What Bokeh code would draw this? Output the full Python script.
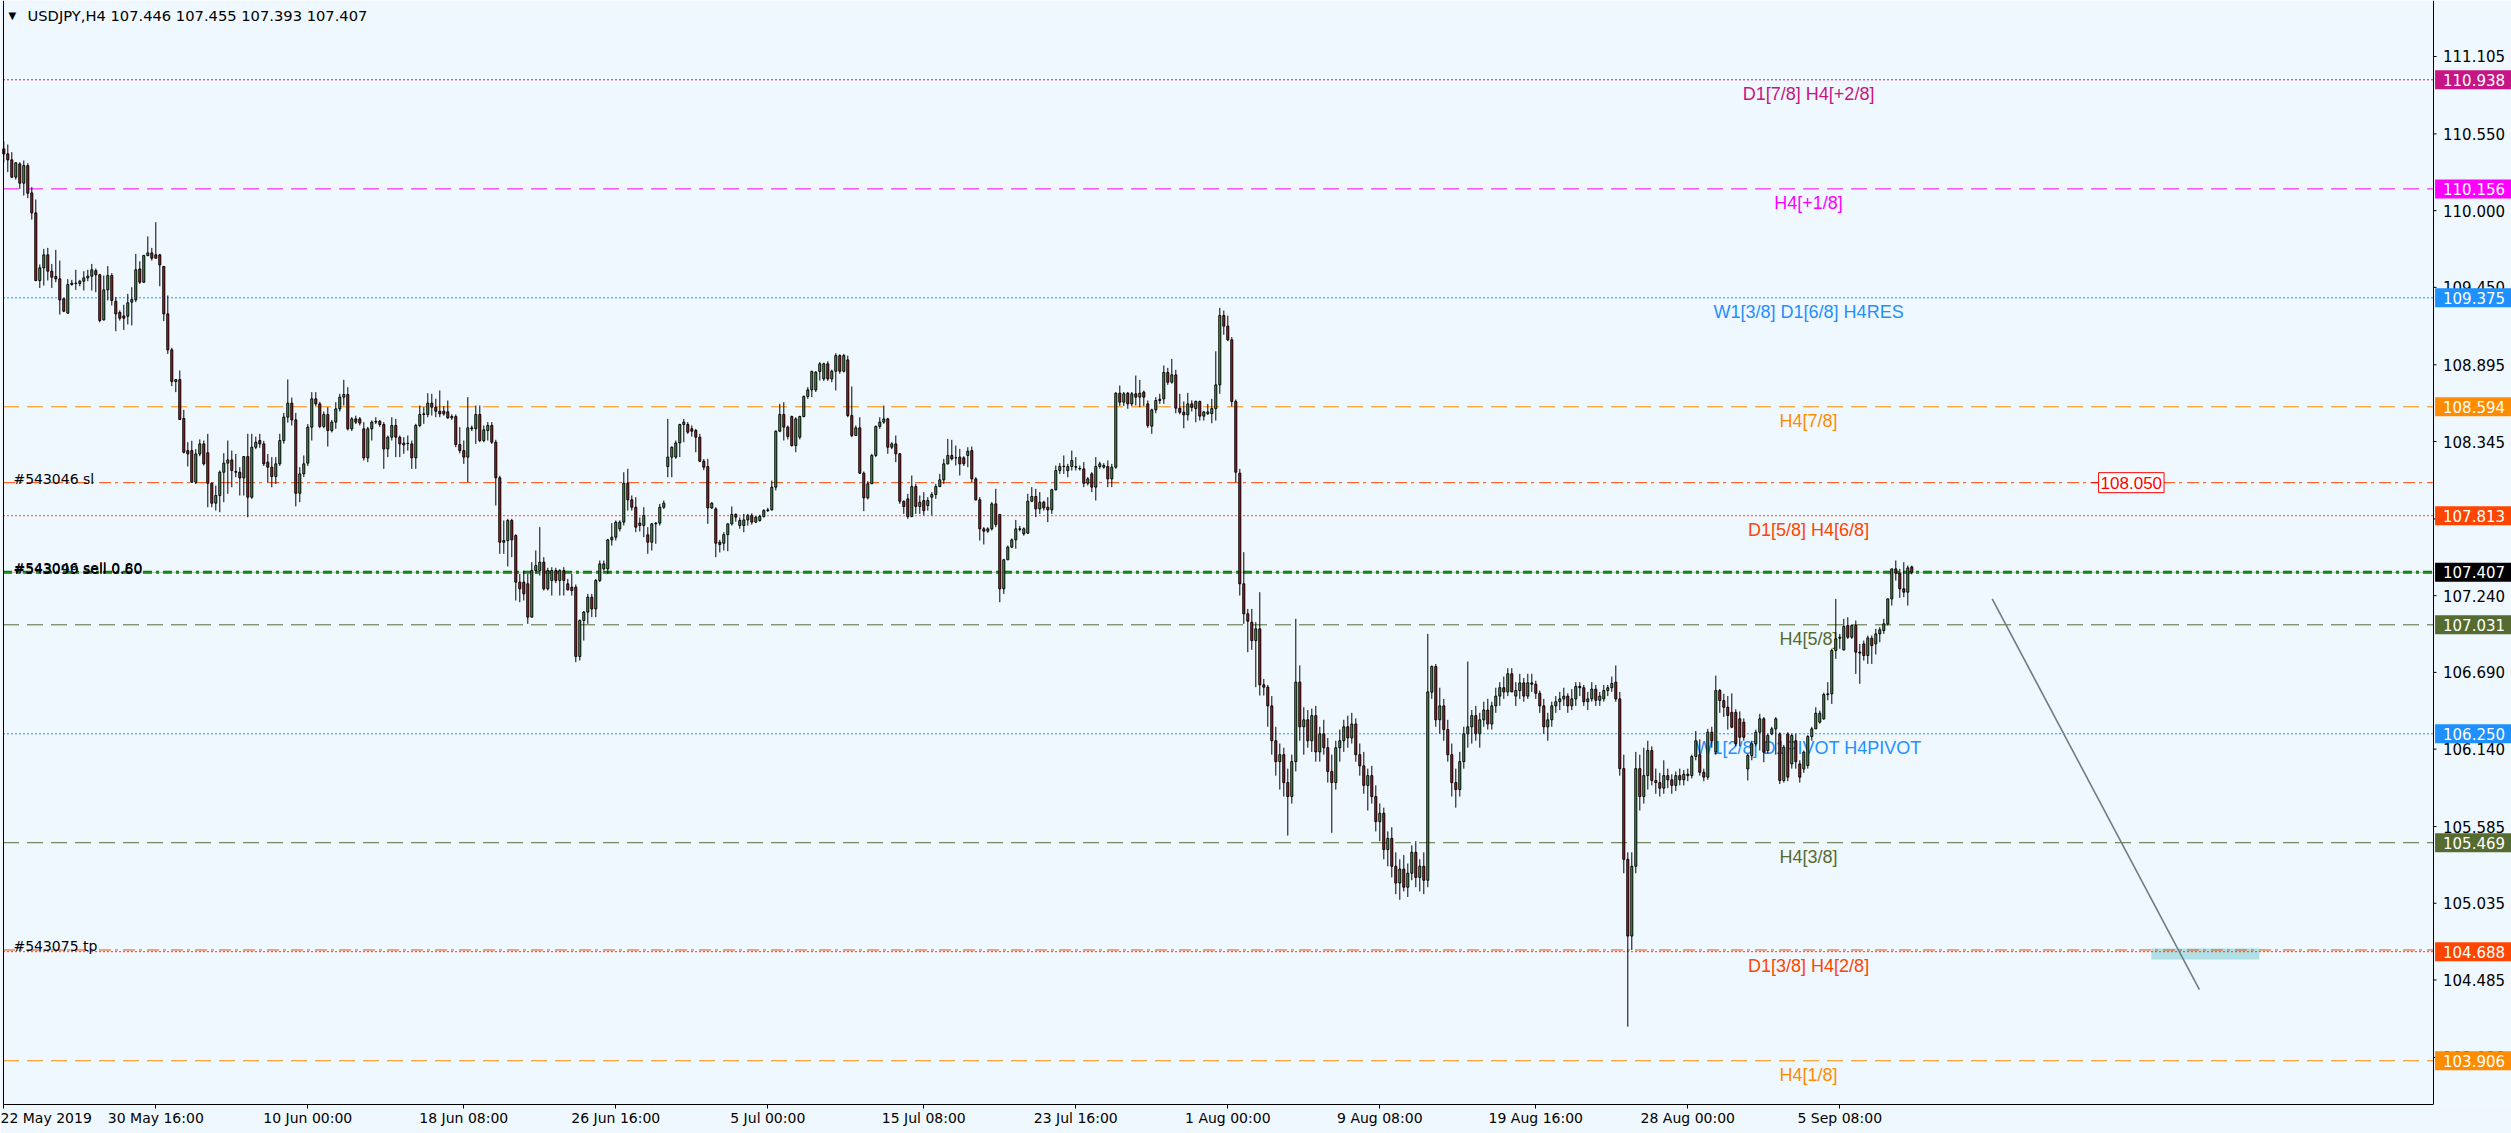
from bokeh.plotting import figure
from bokeh.models import Range1d, LinearAxis, FixedTicker, Label
from bokeh.embed import file_html
from bokeh.resources import INLINE
from bokeh.core.properties import value

# ---------------- data (USDJPY H4 bars) ----------------
opens = [
    110.443, 110.407, 110.364, 110.240, 110.335, 110.197, 110.323, 110.127, 109.984, 109.499,
    109.590, 109.683, 109.566, 109.528, 109.511, 109.368, 109.265, 109.470, 109.480, 109.478,
    109.494, 109.518, 109.530, 109.570, 109.540, 109.217, 109.432, 109.535, 109.350, 109.270,
    109.245, 109.243, 109.344, 109.361, 109.582, 109.487, 109.678, 109.697, 109.683, 109.683,
    109.600, 109.260, 109.002, 108.775, 108.789, 108.510, 108.280, 108.280, 108.053, 108.256,
    108.328, 108.264, 108.046, 107.903, 107.958, 108.125, 108.190, 108.213, 108.130, 108.125,
    108.084, 108.237, 107.946, 108.304, 108.352, 108.328, 108.197, 108.161, 108.094, 108.185,
    108.352, 108.520, 108.620, 108.500, 107.974, 108.113, 108.19, 108.448, 108.651, 108.615,
    108.453, 108.539, 108.424, 108.484, 108.579, 108.663, 108.682, 108.436, 108.507, 108.507,
    108.436, 108.228, 108.436, 108.484, 108.490, 108.467, 108.292, 108.376, 108.460, 108.376,
    108.333, 108.33, 108.328, 108.228, 108.460, 108.539, 108.539, 108.620, 108.591, 108.562,
    108.562, 108.558, 108.515, 108.524, 108.324, 108.280, 108.233, 108.436, 108.436, 108.539,
    108.352, 108.424, 108.460, 108.340, 108.085, 107.623, 107.635, 107.779, 107.671, 107.337,
    107.337, 107.325, 107.086, 107.420, 107.420, 107.480, 107.289, 107.349, 107.420, 107.349,
    107.420, 107.325, 107.301, 107.301, 106.804, 107.062, 107.122, 107.229, 107.145, 107.349,
    107.432, 107.432, 107.640, 107.659, 107.719, 107.767, 108.046, 107.927, 107.874, 107.760,
    107.743, 107.676, 107.623, 107.755, 107.760, 107.874, 108.166, 108.233, 108.233, 108.335,
    108.467, 108.467, 108.436, 108.424, 108.376, 108.204, 108.166, 107.869, 107.862, 107.623,
    107.616, 107.678, 107.755, 107.822, 107.743, 107.743, 107.783, 107.815, 107.767, 107.779,
    107.807, 107.850, 107.855, 108.018, 108.419, 108.539, 108.448, 108.524, 108.316, 108.376,
    108.524, 108.668, 108.715, 108.715, 108.847, 108.794, 108.902, 108.794, 108.849, 108.961,
    108.849, 108.930, 108.531, 108.388, 108.443, 108.118, 107.941, 108.042, 108.245, 108.453,
    108.484, 108.507, 108.304, 108.328, 108.257, 107.917, 107.934, 107.807, 108.022, 107.879,
    107.922, 107.886, 107.946, 107.965, 108.022, 108.070, 108.185, 108.245, 108.228, 108.233,
    108.228, 108.245, 108.280, 108.077, 107.927, 107.719, 107.702, 107.719, 107.898, 107.822,
    107.289, 107.497, 107.588, 107.640, 107.719, 107.683, 107.688, 107.917, 107.951, 107.862,
    107.910, 107.874, 107.855, 107.999, 108.137, 108.166, 108.137, 108.166, 108.161, 108.149,
    108.149, 108.046, 108.113, 108.018, 108.166, 108.161, 108.166, 108.077, 108.161, 108.691,
    108.627, 108.691, 108.615, 108.687, 108.663, 108.699, 108.615, 108.455, 108.572, 108.639,
    108.651, 108.840, 108.770, 108.823, 108.584, 108.555, 108.536, 108.615, 108.581, 108.632,
    108.527, 108.545, 108.545, 108.581, 108.751, 109.248, 109.172, 109.074, 108.632, 108.118,
    107.325, 107.110, 107.050, 106.918, 107.002, 106.601, 106.584, 106.45, 106.20, 106.05,
    106.10, 105.90, 105.80, 106.05, 106.62, 106.30, 106.35, 106.20, 106.38, 106.12,
    106.25, 106.15, 105.98, 105.90, 106.15, 106.20, 106.30, 106.22, 106.32, 106.10,
    106.02, 105.88, 105.95, 105.80, 105.62, 105.68, 105.42, 105.50, 105.30, 105.18,
    105.28, 105.15, 105.25, 105.40, 105.22, 105.30, 105.20, 106.548, 106.732, 106.35,
    106.45, 106.28, 106.10, 105.90, 105.85, 106.05, 106.25, 106.30, 106.38, 106.25,
    106.35, 106.42, 106.32, 106.45, 106.52, 106.58, 106.55, 106.68, 106.52, 106.56,
    106.615, 106.52, 106.615, 106.605, 106.54, 106.45, 106.30, 106.35, 106.45, 106.48,
    106.50, 106.52, 106.45, 106.50, 106.59, 106.58, 106.48, 106.50, 106.57, 106.49,
    106.50, 106.56, 106.58, 106.62, 106.50, 106.00, 105.35, 104.80, 105.30, 106.00,
    105.80, 105.95, 106.13, 105.915, 105.90, 105.86, 105.95, 105.92, 105.88, 105.95,
    105.92, 105.96, 105.95, 106.087, 106.10, 105.974, 105.939, 106.261, 106.12, 106.560,
    106.488, 106.440, 106.404, 106.404, 106.357, 106.333, 105.998, 106.094, 106.178, 106.261,
    106.357, 106.130, 106.249, 106.285, 106.249, 105.915, 106.249, 106.034, 106.20, 106.034,
    105.998, 106.022, 106.230, 106.285, 106.333, 106.357, 106.531, 106.536, 106.847, 106.935,
    106.851, 107.026, 106.942, 107.026, 106.835, 106.894, 106.811, 106.935, 106.894, 106.966,
    106.990, 107.038, 107.217, 107.432, 107.401, 107.289, 107.265, 107.446,
]
highs = [
    110.498, 110.474, 110.419, 110.347, 110.347, 110.359, 110.340, 110.168, 110.080, 109.614,
    109.726, 109.733, 109.618, 109.719, 109.642, 109.375, 109.509, 109.504, 109.576, 109.504,
    109.566, 109.576, 109.618, 109.585, 109.547, 109.535, 109.602, 109.552, 109.380, 109.285,
    109.325, 109.404, 109.451, 109.690, 109.637, 109.683, 109.815, 109.733, 109.917, 109.690,
    109.600, 109.392, 109.017, 108.789, 108.854, 108.572, 108.340, 108.350, 108.290, 108.360,
    108.352, 108.400, 108.050, 108.029, 108.137, 108.261, 108.352, 108.280, 108.256, 108.161,
    108.237, 108.400, 108.400, 108.380, 108.400, 108.350, 108.256, 108.233, 108.233, 108.400,
    108.550, 108.790, 108.660, 108.550, 108.161, 108.245, 108.47, 108.699, 108.699, 108.63,
    108.56, 108.591, 108.50, 108.627, 108.687, 108.787, 108.734, 108.52, 108.53, 108.52,
    108.484, 108.45, 108.496, 108.519, 108.50, 108.484, 108.388, 108.519, 108.507, 108.388,
    108.376, 108.388, 108.352, 108.472, 108.603, 108.591, 108.691, 108.687, 108.651, 108.711,
    108.60, 108.639, 108.54, 108.539, 108.448, 108.352, 108.663, 108.46, 108.603, 108.603,
    108.460, 108.484, 108.484, 108.357, 108.10, 107.779, 107.791, 107.791, 107.68, 107.396,
    107.420, 107.396, 107.480, 107.564, 107.731, 107.516, 107.44, 107.444, 107.44, 107.43,
    107.444, 107.360, 107.396, 107.32, 107.07, 107.13, 107.253, 107.253, 107.36, 107.492,
    107.492, 107.647, 107.760, 107.779, 107.78, 108.125, 108.149, 107.958, 107.946, 107.80,
    107.874, 107.731, 107.760, 107.767, 107.898, 107.922, 108.507, 108.31, 108.352, 108.472,
    108.507, 108.484, 108.46, 108.436, 108.40, 108.22, 108.221, 107.910, 107.874, 107.64,
    107.695, 107.755, 107.879, 107.83, 107.80, 107.826, 107.826, 107.83, 107.81, 107.82,
    107.86, 107.87, 108.065, 108.424, 108.615, 108.627, 108.46, 108.531, 108.519, 108.53,
    108.675, 108.734, 108.854, 108.85, 108.914, 108.91, 108.92, 108.86, 108.978, 108.97,
    108.973, 108.961, 108.739, 108.46, 108.519, 108.13, 108.06, 108.257, 108.460, 108.519,
    108.603, 108.515, 108.34, 108.388, 108.261, 107.922, 107.970, 108.101, 108.042, 107.958,
    107.982, 107.946, 107.982, 108.042, 108.113, 108.221, 108.364, 108.357, 108.316, 108.292,
    108.24, 108.304, 108.309, 108.089, 107.946, 107.731, 107.73, 107.910, 108.006, 107.826,
    107.504, 107.599, 107.65, 107.783, 107.74, 107.73, 107.970, 108.018, 108.006, 107.982,
    107.92, 107.946, 108.006, 108.173, 108.190, 108.245, 108.185, 108.280, 108.233, 108.173,
    108.197, 108.09, 108.125, 108.233, 108.20, 108.19, 108.209, 108.185, 108.699, 108.746,
    108.70, 108.70, 108.70, 108.818, 108.787, 108.71, 108.639, 108.580, 108.663, 108.687,
    108.890, 108.873, 108.937, 108.859, 108.687, 108.632, 108.694, 108.640, 108.639, 108.639,
    108.565, 108.615, 108.651, 108.992, 109.303, 109.284, 109.248, 109.093, 108.646, 108.149,
    107.552, 107.145, 107.145, 107.050, 107.265, 106.643, 106.60, 106.52, 106.30, 106.18,
    106.15, 106.00, 106.10, 107.074, 106.74, 106.44, 106.42, 106.43, 106.45, 106.30,
    106.35, 106.22, 106.10, 106.20, 106.28, 106.35, 106.38, 106.40, 106.36, 106.18,
    106.12, 106.00, 106.02, 105.88, 105.75, 105.72, 105.55, 105.58, 105.40, 105.35,
    105.38, 105.32, 105.45, 105.48, 105.35, 105.40, 106.966, 106.74, 106.75, 106.58,
    106.50, 106.35, 106.18, 106.00, 106.12, 106.30, 106.768, 106.42, 106.45, 106.40,
    106.48, 106.50, 106.48, 106.58, 106.62, 106.66, 106.72, 106.72, 106.62, 106.68,
    106.65, 106.68, 106.68, 106.63, 106.56, 106.50, 106.40, 106.48, 106.52, 106.55,
    106.58, 106.54, 106.57, 106.62, 106.62, 106.60, 106.55, 106.62, 106.60, 106.55,
    106.60, 106.60, 106.66, 106.74, 106.55, 106.10, 105.40, 105.40, 106.12, 106.10,
    106.15, 106.20, 106.16, 106.00, 105.97, 106.06, 106.00, 105.96, 105.98, 106.00,
    105.99, 106.00, 106.10, 106.27, 106.21, 106.00, 106.285, 106.30, 106.667, 106.571,
    106.536, 106.52, 106.54, 106.426, 106.41, 106.36, 106.106, 106.20, 106.28, 106.393,
    106.37, 106.25, 106.30, 106.369, 106.26, 106.17, 106.261, 106.25, 106.25, 106.06,
    106.13, 106.24, 106.30, 106.440, 106.416, 106.545, 106.62, 106.86, 107.217, 106.966,
    107.074, 107.085, 107.030, 107.062, 106.894, 106.918, 106.954, 106.954, 107.002, 107.014,
    107.074, 107.217, 107.432, 107.492, 107.432, 107.480, 107.456, 107.455,
]
lows = [
    110.347, 110.276, 110.233, 110.223, 110.156, 110.108, 110.089, 109.936, 109.494, 109.446,
    109.463, 109.499, 109.446, 109.487, 109.255, 109.272, 109.262, 109.463, 109.432, 109.458,
    109.427, 109.494, 109.427, 109.415, 109.200, 109.212, 109.356, 109.320, 109.136, 109.212,
    109.145, 109.184, 109.177, 109.344, 109.475, 109.482, 109.673, 109.642, 109.659, 109.458,
    109.208, 108.973, 108.742, 108.699, 108.503, 108.260, 108.166, 108.050, 108.040, 108.240,
    108.173, 107.874, 107.874, 107.850, 107.838, 107.910, 107.970, 108.017, 108.089, 107.958,
    107.958, 107.802, 107.934, 108.290, 108.300, 108.170, 108.053, 108.017, 108.041, 108.170,
    108.330, 108.480, 108.460, 107.880, 107.910, 108.090, 108.17, 108.352, 108.60, 108.44,
    108.44, 108.309, 108.41, 108.436, 108.56, 108.603, 108.424, 108.42, 108.47, 108.46,
    108.209, 108.197, 108.352, 108.47, 108.45, 108.149, 108.233, 108.352, 108.233, 108.233,
    108.257, 108.280, 108.149, 108.149, 108.448, 108.472, 108.519, 108.531, 108.519, 108.519,
    108.53, 108.507, 108.50, 108.304, 108.26, 108.185, 108.053, 108.42, 108.328, 108.340,
    108.340, 108.352, 108.328, 107.886, 107.540, 107.540, 107.449, 107.516, 107.205, 107.193,
    107.205, 107.038, 107.086, 107.396, 107.384, 107.277, 107.277, 107.241, 107.33, 107.241,
    107.241, 107.277, 107.241, 106.763, 106.775, 106.918, 107.038, 107.086, 107.086, 107.337,
    107.420, 107.396, 107.599, 107.635, 107.70, 107.743, 107.850, 107.850, 107.695, 107.70,
    107.659, 107.540, 107.564, 107.612, 107.743, 107.862, 108.089, 108.089, 108.221, 108.233,
    108.340, 108.40, 108.38, 108.268, 108.197, 108.14, 107.755, 107.862, 107.516, 107.55,
    107.564, 107.559, 107.743, 107.77, 107.72, 107.695, 107.743, 107.75, 107.76, 107.77,
    107.80, 107.84, 107.850, 107.994, 108.412, 108.352, 108.36, 108.309, 108.268, 108.36,
    108.519, 108.651, 108.663, 108.70, 108.782, 108.78, 108.78, 108.77, 108.711, 108.83,
    108.84, 108.519, 108.376, 108.388, 108.113, 107.846, 107.93, 108.042, 108.233, 108.436,
    108.472, 108.257, 108.29, 108.197, 107.898, 107.826, 107.791, 107.803, 107.826, 107.826,
    107.815, 107.850, 107.815, 107.934, 108.018, 108.042, 108.180, 108.209, 108.173, 108.101,
    108.17, 108.161, 108.053, 107.922, 107.635, 107.607, 107.69, 107.707, 107.731, 107.193,
    107.253, 107.540, 107.58, 107.576, 107.70, 107.67, 107.683, 107.910, 107.803, 107.826,
    107.85, 107.767, 107.826, 107.994, 108.113, 108.113, 108.089, 108.137, 108.137, 108.137,
    108.018, 108.03, 107.982, 107.922, 108.15, 108.15, 108.018, 108.018, 108.149, 108.60,
    108.60, 108.58, 108.60, 108.603, 108.591, 108.60, 108.443, 108.400, 108.548, 108.615,
    108.615, 108.751, 108.760, 108.548, 108.540, 108.440, 108.495, 108.560, 108.483, 108.495,
    108.495, 108.535, 108.476, 108.495, 108.687, 109.110, 109.064, 108.596, 108.053, 107.241,
    107.038, 106.835, 106.852, 106.584, 106.524, 106.524, 106.30, 106.10, 105.95, 105.85,
    105.80, 105.52, 105.75, 105.98, 106.20, 106.10, 106.15, 106.12, 106.05, 106.05,
    106.10, 105.90, 105.54, 105.85, 106.05, 106.12, 106.15, 106.18, 106.05, 105.95,
    105.82, 105.70, 105.75, 105.55, 105.48, 105.35, 105.30, 105.22, 105.10, 105.06,
    105.12, 105.08, 105.20, 105.15, 105.12, 105.10, 105.15, 106.50, 106.30, 106.25,
    106.20, 106.05, 105.80, 105.72, 105.80, 106.00, 106.15, 106.18, 106.20, 106.15,
    106.30, 106.28, 106.28, 106.40, 106.45, 106.50, 106.52, 106.55, 106.45, 106.50,
    106.48, 106.50, 106.55, 106.50, 106.40, 106.25, 106.20, 106.30, 106.40, 106.42,
    106.45, 106.40, 106.42, 106.45, 106.52, 106.45, 106.42, 106.48, 106.45, 106.45,
    106.48, 106.52, 106.55, 106.48, 105.95, 105.25, 104.15, 104.70, 105.25, 105.70,
    105.75, 105.85, 105.88, 105.82, 105.80, 105.82, 105.86, 105.82, 105.84, 105.88,
    105.88, 105.91, 105.93, 106.06, 105.95, 105.91, 105.92, 106.15, 106.10, 106.40,
    106.37, 106.28, 106.29, 106.16, 106.16, 106.20, 105.915, 106.06, 106.16, 106.13,
    106.046, 106.11, 106.24, 106.10, 105.89, 105.90, 105.91, 106.00, 106.00, 105.90,
    105.97, 106.00, 106.20, 106.285, 106.323, 106.35, 106.49, 106.464, 106.787, 106.859,
    106.847, 106.930, 106.930, 106.679, 106.608, 106.775, 106.751, 106.751, 106.818, 106.906,
    106.966, 107.026, 107.169, 107.348, 107.224, 107.229, 107.169, 107.393,
]
closes = [
    110.407, 110.364, 110.240, 110.343, 110.197, 110.323, 110.125, 109.984, 109.499, 109.590,
    109.683, 109.566, 109.523, 109.511, 109.360, 109.279, 109.470, 109.480, 109.478, 109.494,
    109.518, 109.530, 109.576, 109.540, 109.212, 109.432, 109.535, 109.356, 109.260, 109.229,
    109.229, 109.339, 109.363, 109.576, 109.487, 109.678, 109.697, 109.659, 109.659, 109.611,
    109.260, 109.002, 108.775, 108.789, 108.503, 108.268, 108.256, 108.053, 108.256, 108.328,
    108.185, 108.046, 107.903, 107.958, 108.125, 108.190, 108.213, 108.137, 108.125, 108.084,
    108.237, 107.946, 108.304, 108.340, 108.328, 108.185, 108.161, 108.094, 108.185, 108.352,
    108.520, 108.620, 108.500, 107.974, 108.113, 108.185, 108.448, 108.651, 108.615, 108.453,
    108.539, 108.424, 108.484, 108.579, 108.663, 108.682, 108.436, 108.507, 108.484, 108.477,
    108.228, 108.436, 108.484, 108.490, 108.467, 108.292, 108.376, 108.460, 108.376, 108.328,
    108.321, 108.333, 108.228, 108.460, 108.539, 108.543, 108.620, 108.591, 108.562, 108.543,
    108.543, 108.515, 108.524, 108.324, 108.280, 108.233, 108.443, 108.443, 108.539, 108.352,
    108.429, 108.460, 108.340, 108.085, 107.623, 107.635, 107.779, 107.640, 107.337, 107.289,
    107.253, 107.086, 107.420, 107.456, 107.480, 107.289, 107.420, 107.420, 107.349, 107.420,
    107.349, 107.282, 107.277, 106.804, 107.062, 107.122, 107.229, 107.145, 107.349, 107.468,
    107.468, 107.640, 107.659, 107.767, 107.767, 108.046, 107.927, 107.874, 107.731, 107.743,
    107.815, 107.623, 107.755, 107.760, 107.874, 107.903, 108.233, 108.304, 108.335, 108.467,
    108.484, 108.412, 108.419, 108.376, 108.204, 108.161, 107.869, 107.903, 107.616, 107.607,
    107.678, 107.755, 107.822, 107.803, 107.779, 107.783, 107.815, 107.767, 107.803, 107.807,
    107.850, 107.855, 108.018, 108.419, 108.539, 108.448, 108.381, 108.316, 108.507, 108.524,
    108.668, 108.715, 108.847, 108.842, 108.902, 108.902, 108.794, 108.849, 108.961, 108.849,
    108.961, 108.531, 108.388, 108.443, 108.118, 107.941, 108.042, 108.245, 108.453, 108.484,
    108.507, 108.304, 108.328, 108.257, 107.917, 107.879, 107.807, 108.022, 107.879, 107.910,
    107.850, 107.922, 107.965, 108.022, 108.070, 108.185, 108.245, 108.221, 108.228, 108.185,
    108.185, 108.276, 108.077, 107.927, 107.719, 107.702, 107.719, 107.898, 107.750, 107.289,
    107.497, 107.588, 107.640, 107.719, 107.715, 107.719, 107.917, 107.951, 107.862, 107.910,
    107.869, 107.855, 107.999, 108.137, 108.166, 108.168, 108.166, 108.209, 108.165, 108.152,
    108.046, 108.077, 108.018, 108.166, 108.185, 108.173, 108.077, 108.161, 108.691, 108.627,
    108.687, 108.615, 108.687, 108.663, 108.691, 108.663, 108.460, 108.572, 108.639, 108.648,
    108.840, 108.770, 108.823, 108.584, 108.555, 108.536, 108.615, 108.590, 108.632, 108.527,
    108.557, 108.557, 108.581, 108.751, 109.248, 109.172, 109.074, 108.632, 108.125, 107.325,
    107.110, 107.057, 106.918, 107.002, 106.601, 106.584, 106.45, 106.20, 106.05, 106.10,
    105.90, 105.80, 106.05, 106.62, 106.30, 106.35, 106.20, 106.38, 106.12, 106.25,
    106.15, 105.98, 105.90, 106.15, 106.20, 106.30, 106.22, 106.32, 106.10, 106.02,
    105.88, 105.95, 105.80, 105.62, 105.68, 105.42, 105.50, 105.30, 105.18, 105.28,
    105.15, 105.25, 105.40, 105.22, 105.30, 105.20, 106.55, 106.732, 106.35, 106.45,
    106.28, 106.10, 105.90, 105.85, 106.05, 106.25, 106.30, 106.38, 106.25, 106.35,
    106.42, 106.32, 106.45, 106.52, 106.58, 106.55, 106.68, 106.55, 106.56, 106.615,
    106.52, 106.615, 106.605, 106.54, 106.45, 106.30, 106.35, 106.45, 106.48, 106.50,
    106.52, 106.45, 106.50, 106.59, 106.58, 106.48, 106.50, 106.57, 106.49, 106.52,
    106.56, 106.58, 106.61, 106.50, 106.00, 105.35, 104.80, 105.30, 106.00, 105.80,
    105.95, 106.13, 105.915, 105.90, 105.86, 105.95, 105.92, 105.88, 105.95, 105.92,
    105.96, 105.95, 106.087, 106.20, 105.974, 105.939, 106.261, 106.20, 106.560, 106.488,
    106.440, 106.381, 106.297, 106.178, 106.225, 106.225, 106.094, 106.178, 106.261, 106.357,
    106.118, 106.237, 106.285, 106.357, 105.915, 106.154, 105.939, 106.237, 106.05, 105.939,
    106.118, 106.230, 106.285, 106.397, 106.397, 106.531, 106.536, 106.847, 106.930, 106.942,
    107.019, 106.942, 107.026, 106.835, 106.828, 106.811, 106.937, 106.882, 106.966, 106.995,
    107.038, 107.217, 107.432, 107.401, 107.289, 107.265, 107.439, 107.407,
]

symbol = "USDJPY,H4"
date_tick_bars = [0, 38, 76, 115, 153, 191, 230, 268, 306, 344, 383, 421, 459]
date_tick_labels = ["22 May 2019", "30 May 16:00", "10 Jun 00:00", "18 Jun 08:00", "26 Jun 16:00",
                    "5 Jul 00:00", "15 Jul 08:00", "23 Jul 16:00", "1 Aug 00:00", "9 Aug 08:00",
                    "19 Aug 16:00", "28 Aug 00:00", "5 Sep 08:00"]
price_ticks = [111.105, 110.550, 110.000, 109.450, 108.895, 108.345, 107.790, 107.240,
               106.690, 106.140, 105.585, 105.035, 104.485, 103.930]

level_prices = [110.938, 110.156, 109.375, 108.594, 107.813, 107.031, 106.250, 105.469, 104.688, 103.906]
level_names = ["D1[7/8] H4[+2/8]", "H4[+1/8]", "W1[3/8] D1[6/8] H4RES", "H4[7/8]", "D1[5/8] H4[6/8]",
               "H4[5/8]", "W1[2/8] D1PIVOT H4PIVOT", "H4[3/8]", "D1[3/8] H4[2/8]", "H4[1/8]"]
level_colors = ["#C71585", "#FF00FF", "#1E90FF", "#FF8C00", "#FF4500",
                "#556B2F", "#1E90FF", "#556B2F", "#FF4500", "#FF8C00"]
level_dotted = [True, False, True, False, True, False, True, False, True, False]

sl_price = 108.050
tp_price = 104.700
entry_prices = [107.413, 107.402]
entry_texts = ["#543046 sell 0.80", "#543099 sell 0.60"]
sl_text = "#543046 sl"
tp_text = "#543075 tp"
trend_x = [497.1, 548.9]
trend_y = [107.217, 104.415]
zone_x = [536.9, 563.9]
zone_y = [104.632, 104.711]

# ---------------- figure ----------------
BG = "#F0F8FF"
X0, X1 = -0.825, 626.925          # bar units spanned by the full-width frame
LEFT_EDGE, RIGHT_EDGE = -0.2, 607.425   # chart-area borders (bar units)
PX = 4.0                           # pixels per bar

p = figure(width=2511, height=1133, output_backend="svg", toolbar_location=None,
           x_range=Range1d(X0, X1), y_range=Range1d(103.5924, 111.5064),
           min_border_left=0, min_border_top=0, min_border_right=0, min_border_bottom=29,
           background_fill_color=BG, border_fill_color=BG, outline_line_color=None,
           x_axis_location=None, y_axis_location=None)
p.grid.visible = False

xax = LinearAxis(ticker=FixedTicker(ticks=date_tick_bars), bounds=(LEFT_EDGE, RIGHT_EDGE),
                 major_label_overrides={b: t for b, t in zip(date_tick_bars, date_tick_labels)},
                 major_tick_out=4, major_tick_in=0, minor_tick_out=0, minor_tick_in=0,
                 major_label_standoff=1, axis_line_color="black", major_tick_line_color="black",
                 major_label_text_font="DejaVu Sans", major_label_text_font_size="14px",
                 major_label_text_color="black", major_label_text_align="left")
p.add_layout(xax, "below")

# target zone rectangle (below the lines)
p.quad(left=[zone_x[0]], right=[zone_x[1]], bottom=[zone_y[0]], top=[zone_y[1]],
       fill_color="#B0E0E6", line_color=None)

# level lines
for lp, lc, dot in zip(level_prices, level_colors, level_dotted):
    p.segment(x0=[LEFT_EDGE], x1=[RIGHT_EDGE], y0=[lp], y1=[lp], line_color=lc, line_width=1,
              line_dash="2 2" if dot else "16 8")
for op in (sl_price, tp_price):
    p.segment(x0=[LEFT_EDGE], x1=[RIGHT_EDGE], y0=[op], y1=[op], line_color="#FF4500",
              line_width=1, line_dash="12 4 3 5")
p.segment(x0=[LEFT_EDGE], x1=[RIGHT_EDGE], y0=[closes[-1]], y1=[closes[-1]], line_color="#C0C0C0", line_width=1)
for ep in entry_prices:
    p.segment(x0=[LEFT_EDGE], x1=[RIGHT_EDGE], y0=[ep], y1=[ep], line_color="#008000",
              line_width=1.5, line_dash="9 4 3 4")

# level captions
label_bar = 451.2
p.text(x=[label_bar] * len(level_prices), y=level_prices, text=level_names, text_color=level_colors,
       text_align="center", text_baseline="top", y_offset=4,
       text_font=value("Liberation Sans"), text_font_size="18px")

# candles
idx = list(range(len(closes)))
p.segment(x0=idx, y0=lows, x1=idx, y1=highs, line_color="black", line_width=1)
bull = [i for i in idx if closes[i] >= opens[i]]
bear = [i for i in idx if closes[i] < opens[i]]
p.vbar(x=bull, width=0.5, top=[closes[i] for i in bull], bottom=[opens[i] for i in bull],
       fill_color="#3CB43C", line_color="black", line_width=1)
p.vbar(x=bear, width=0.5, top=[opens[i] for i in bear], bottom=[closes[i] for i in bear],
       fill_color="#DC1414", line_color="black", line_width=1)

# trend line
p.line(trend_x, trend_y, line_color="#6E7B8B", line_width=1.6)

# order texts
order_font = dict(text_color="black", text_align="left", text_baseline="alphabetic", y_offset=-4,
                  text_font=value("DejaVu Sans"), text_font_size="14px")
p.text(x=[2.4], y=[sl_price], text=[sl_text], **order_font)
p.text(x=[2.4], y=[tp_price], text=[tp_text], **order_font)
p.text(x=[2.4, 2.4], y=entry_prices, text=entry_texts, **order_font)

# sl price marker
sl_marker_bar = 523.7
p.segment(x0=[sl_marker_bar - 2], y0=[sl_price], x1=[sl_marker_bar], y1=[sl_price], line_color="red", line_width=1)
p.add_layout(Label(x=sl_marker_bar, y=sl_price, text=f"{sl_price:.3f}", text_color="red",
                   text_align="left", text_baseline="middle", text_font="Liberation Sans",
                   text_font_size="17px", background_fill_color="white", border_line_color="red",
                   border_line_width=1, padding=(2, 4)))

# chart borders
p.vspan(x=[LEFT_EDGE], line_color="black", line_width=1)
p.vspan(x=[RIGHT_EDGE], line_color="black", line_width=1)

# price scale: ticks and labels (same y scale as the bars)
p.segment(x0=[RIGHT_EDGE] * len(price_ticks), x1=[RIGHT_EDGE + 3 / PX] * len(price_ticks),
          y0=price_ticks, y1=price_ticks, line_color="black", line_width=1)
scale_text_x = RIGHT_EDGE + 9.5 / PX
p.text(x=[scale_text_x] * len(price_ticks), y=price_ticks, text=[f"{t:.3f}" for t in price_ticks],
       text_color="black", text_align="left", text_baseline="middle",
       text_font=value("DejaVu Sans"), text_font_size="15px")

# price boxes on the scale
box_prices = level_prices[:5] + [closes[-1]] + level_prices[5:]
box_colors = level_colors[:5] + ["black"] + level_colors[5:]
box_left = RIGHT_EDGE + 1.6 / PX
p.rect(x=[(box_left + X1) / 2] * len(box_prices), y=box_prices, width=X1 - box_left, height=19,
       height_units="screen", fill_color=box_colors, line_color=None)
p.text(x=[scale_text_x] * len(box_prices), y=box_prices, text=[f"{b:.3f}" for b in box_prices],
       text_color="white", text_align="left", text_baseline="middle",
       text_font=value("DejaVu Sans"), text_font_size="15px")

# header
p.add_layout(Label(x=8, y=1089, x_units="screen", y_units="screen", text="\u25BC",
                   text_font="DejaVu Sans", text_font_size="10px", text_color="black",
                   text_baseline="middle"))
p.add_layout(Label(x=27, y=1089, x_units="screen", y_units="screen",
                   text=f"{symbol}  {opens[-1]:.3f} {highs[-1]:.3f} {lows[-1]:.3f} {closes[-1]:.3f}",
                   text_font="DejaVu Sans", text_font_size="14.7px", text_color="black",
                   text_baseline="middle"))

open("out.html", "w").write(file_html(p, INLINE))
